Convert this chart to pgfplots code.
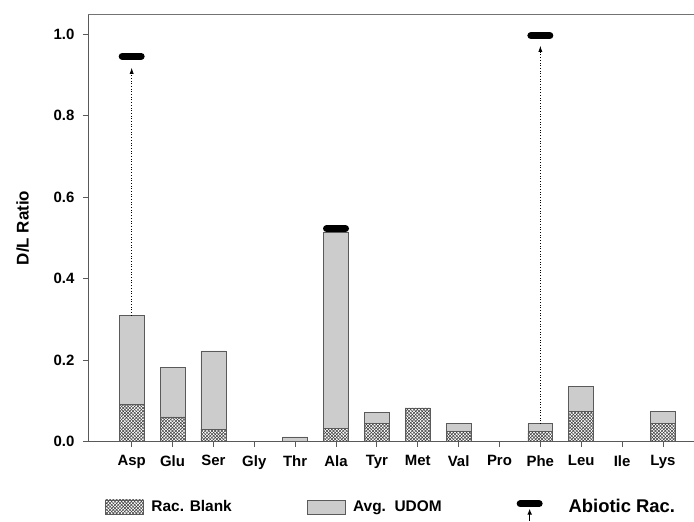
\documentclass[border=0pt]{standalone}
\usepackage{fontspec}
\setmainfont{Liberation Sans}
\usepackage{pgfplots}
\pgfplotsset{compat=1.18}
\usetikzlibrary{patterns,arrows.meta}
\pgfdeclarepatternformonly{fine crosshatch}{\pgfqpoint{-1pt}{-1pt}}{\pgfqpoint{4.3pt}{4.3pt}}{\pgfqpoint{3.3pt}{3.3pt}}{%
  \pgfsetlinewidth{0.5pt}%
  \pgfpathmoveto{\pgfqpoint{-0.1pt}{-0.1pt}}\pgfpathlineto{\pgfqpoint{3.4pt}{3.4pt}}%
  \pgfpathmoveto{\pgfqpoint{-0.1pt}{3.4pt}}\pgfpathlineto{\pgfqpoint{3.4pt}{-0.1pt}}%
  \pgfusepath{stroke}}
\definecolor{udom}{RGB}{204,204,204}
\definecolor{edge}{RGB}{90,90,90}
\begin{document}
\begin{tikzpicture}
\begin{axis}[
  scale only axis, width=606bp, height=428bp,
  xmin=-1.07, xmax=13.75, ymin=0, ymax=1.05,
  axis x line*=bottom, axis y line*=left,
  axis line style={draw=black!65, line width=0.8bp},
  tick style={draw=black!65, line width=0.8bp},
  tick align=outside, major tick length=5bp,
  xtick={0,...,13},
  xticklabels={Asp,Glu,Ser,Gly,Thr,Ala,Tyr,Met,Val,Pro,Phe,Leu,Ile,Lys},
  ytick={0,0.2,0.4,0.6,0.8,1.0},
  /pgf/number format/assume math mode=true,
  yticklabel style={/pgf/number format/.cd, fixed, fixed zerofill, precision=1, /tikz/.cd, xshift=-5bp},
  ticklabel style={font=\bfseries\fontsize{15}{15}\selectfont},
  xticklabel style={yshift=-5bp},
  ylabel={D/L Ratio},
  ylabel style={font=\bfseries\fontsize{17}{17}\selectfont, yshift=18bp},
  clip=false,
  legend columns=3,
  legend style={draw=none, fill=none, inner sep=0pt, at={(rel axis cs:0.028,-0.158)}, anchor=west,
    /tikz/every odd column/.append style={column sep=6bp},
    /tikz/every even column/.append style={column sep=73bp},
    font=\bfseries\fontsize{15.5}{15.5}\selectfont},
]
\addlegendimage{legend image code/.code={\draw[draw=edge, fill=white, postaction={pattern=fine crosshatch, pattern color=black!75}] (0bp,-7bp) rectangle (38bp,7bp);}}
\addlegendentry{Rac. Blank}
\addlegendimage{legend image code/.code={\draw[draw=edge, fill=udom] (0bp,-7bp) rectangle (38bp,7bp);}}
\addlegendentry{Avg.\ \ UDOM}
\addlegendimage{legend image code/.code={\path[draw=none, fill=none] (0bp,0bp) -- (44bp,0bp); \draw[black, solid, line width=7bp, line cap=round] (3.5bp,3bp) -- (22.5bp,3bp); \draw[black, solid, line width=1.2bp, -{Latex[length=6bp,width=5bp]}] (13bp,-14bp) -- (13bp,-2bp);}}
\addlegendentry{\fontsize{18.5}{18.5}\selectfont Abiotic Rac.}

% total (Avg. UDOM) bars
\addplot[forget plot, ybar, bar width=25bp, bar shift=0pt, draw=edge, line width=0.7bp, fill=udom]
  coordinates {(0,0.310) (1,0.182) (2,0.223) (4,0.012) (5,0.515) (6,0.073) (7,0.083) (8,0.044) (10,0.044) (11,0.135) (13,0.074)};
% Rac. Blank bars
\addplot[forget plot, ybar, bar width=25bp, bar shift=0pt, draw=edge, line width=0.7bp, fill=white, postaction={pattern=fine crosshatch, pattern color=black!75}]
  coordinates {(0,0.091) (1,0.061) (2,0.031) (5,0.032) (6,0.044) (7,0.083) (8,0.025) (10,0.025) (11,0.075) (13,0.046)};
% dotted arrows
\addplot[forget plot, black, line width=0.7bp, dotted, -{Latex[length=6bp,width=4bp]}] coordinates {(0,0.310) (0,0.918)};
\addplot[forget plot, black, line width=0.7bp, dotted, -{Latex[length=6bp,width=4bp]}] coordinates {(10,0.044) (10,0.972)};
% abiotic racemization
\addplot[forget plot, only marks, mark=-, mark size=9.5bp, mark options={line width=7bp, line cap=round, black}]
  coordinates {(0,0.946) (5,0.523) (10,0.997)};
\end{axis}
\draw[black!55, line width=0.8bp] (current axis.north west) -- (current axis.north east);
\path (current axis.south west) ++(-88bp,-77bp) rectangle ++(694bp,519bp);
\end{tikzpicture}
\end{document}
